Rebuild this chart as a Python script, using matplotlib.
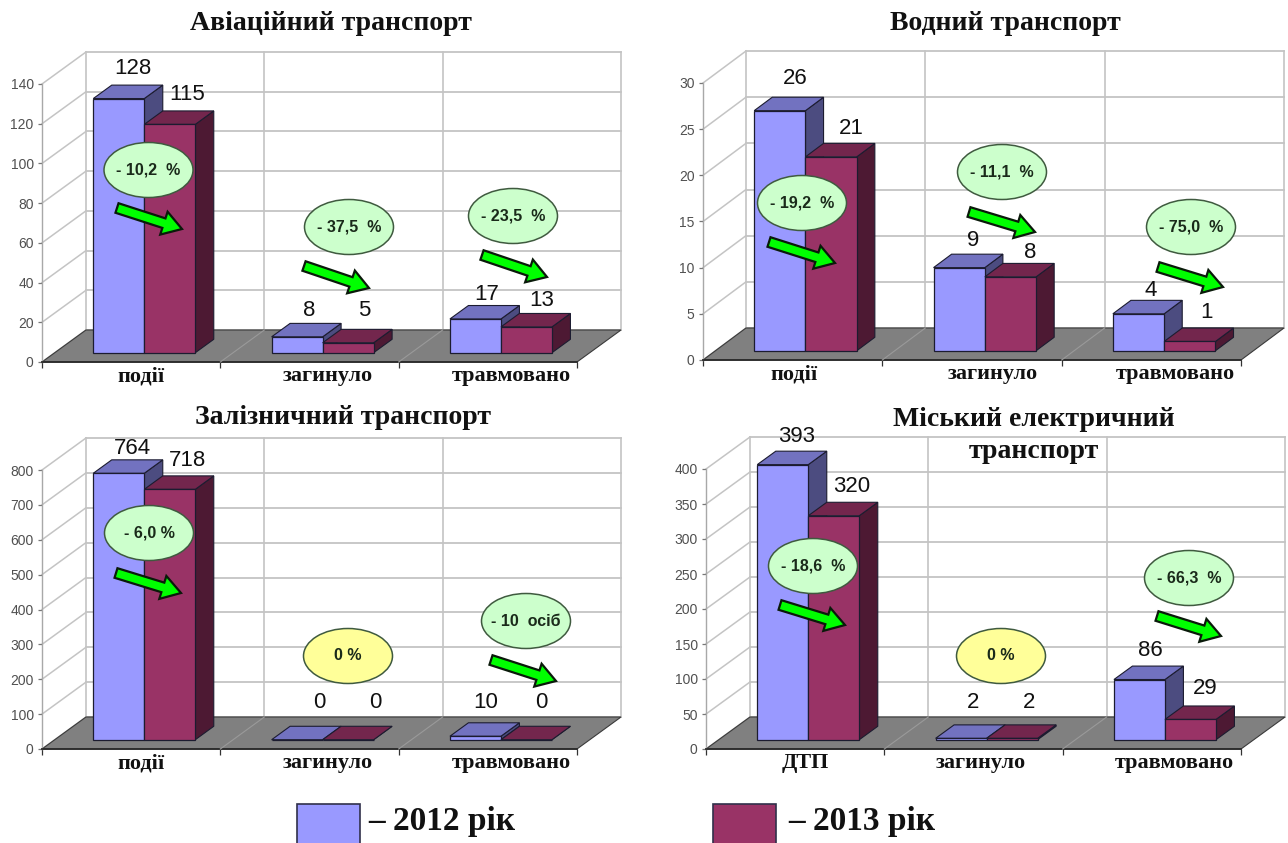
import matplotlib
matplotlib.use("Agg")
import matplotlib.pyplot as plt
from matplotlib.patches import Ellipse, FancyArrow, Polygon, Rectangle

W, H = 1288, 843
SANS, SERIF = "Liberation Sans", "Liberation Serif"

# ---- data ----
titles = ["Авіаційний транспорт", "Водний транспорт", "Залізничний транспорт",
          "Міський електричний\nтранспорт"]
cats_air = ["події", "загинуло", "травмовано"]
cats_water = ["події", "загинуло", "травмовано"]
cats_rail = ["події", "загинуло", "травмовано"]
cats_city = ["ДТП", "загинуло", "травмовано"]
air_2012 = [128, 8, 17]
air_2013 = [115, 5, 13]
water_2012 = [26, 9, 4]
water_2013 = [21, 8, 1]
rail_2012 = [764, 0, 10]
rail_2013 = [718, 0, 0]
city_2012 = [393, 2, 86]
city_2013 = [320, 2, 29]
air_ticks = [0, 20, 40, 60, 80, 100, 120, 140]
water_ticks = [0, 5, 10, 15, 20, 25, 30]
rail_ticks = [0, 100, 200, 300, 400, 500, 600, 700, 800]
city_ticks = [0, 50, 100, 150, 200, 250, 300, 350, 400]
air_changes = ["- 10,2  %", "- 37,5  %", "- 23,5  %"]
water_changes = ["- 19,2  %", "- 11,1  %", "- 75,0  %"]
rail_changes = ["- 6,0 %", "0 %", "- 10  осіб"]
city_changes = ["- 18,6  %", "0 %", "- 66,3  %"]
legend_labels = ["– 2012 рік", "– 2013 рік"]

# ---- styles ----
BLUE = ("#9999FF", "#7272C0", "#4C4C80")
CRIM = ("#993366", "#73264D", "#4D1933")
EDGE = "#1c1c30"
GRID = "#c4c4c4"

# ---- layout in reference pixels ----
panels = [
    dict(title=titles[0], cats=cats_air, a=air_2012, b=air_2013, ticks=air_ticks, changes=air_changes,
         left=42, right=577, y0=362, ytop=84, dx=44, dy=32,
         title_xy=[(331, 24)], cat_px=[141, 328, 511],
         labels=[(132.5, 67), (187.5, 94), (309, 310), (364, 310), (487, 293), (542, 299)],
         ell=[(148.5, 170), (349, 227), (513, 216)],
         arrows=[((117, 208), (182, 229)), ((304, 266), (369, 288)), ((482, 255), (547, 277))]),
    dict(title=titles[1], cats=cats_water, a=water_2012, b=water_2013, ticks=water_ticks, changes=water_changes,
         left=703, right=1241, y0=360, ytop=83, dx=43, dy=32,
         title_xy=[(1005, 24)], cat_px=[794, 993, 1175],
         labels=[(795, 78), (851, 128), (973, 240), (1030, 251), (1151, 289), (1207, 311)],
         ell=[(802, 203), (1002, 172), (1191, 227)],
         arrows=[((769, 242), (835, 263)), ((969, 212), (1035, 232)), ((1158, 267), (1223, 287))]),
    dict(title=titles[2], cats=cats_rail, a=rail_2012, b=rail_2013, ticks=rail_ticks, changes=rail_changes,
         left=42, right=577, y0=749, ytop=470, dx=44, dy=32,
         title_xy=[(343, 418)], cat_px=[141, 328, 511],
         labels=[(132, 447), (187.5, 460), (319, 702), (375, 702), (486, 702), (541.5, 702)],
         ell=[(149, 533), (348, 656), (526, 621)],
         arrows=[((116, 573), (181, 593)), None, ((491, 660), (556, 681))]),
    dict(title=titles[3], cats=cats_city, a=city_2012, b=city_2013, ticks=city_ticks, changes=city_changes,
         left=706, right=1241, y0=749, ytop=469, dx=44, dy=32,
         title_xy=[(1034, 419), (1034, 452)], cat_px=[805, 981, 1174],
         labels=[(797, 435), (852, 486), (973, 702), (1029, 702), (1150, 649), (1205, 688)],
         ell=[(813, 566), (1001, 656), (1189, 578)],
         arrows=[((780, 605), (845, 625)), None, ((1157, 616), (1221, 636))]),
]

GAP, BAR_W = 0.216, 0.286        # fractions of one category
D0, D1 = 0.29, 0.71              # bar extent along the depth axis

plt.rcParams["font.family"] = [SANS, "DejaVu Sans"]
fig = plt.figure(figsize=(W / 100, H / 100), dpi=100, facecolor="white")

# overlay in pixel coordinates for annotations
ov = fig.add_axes([0, 0, 1, 1], zorder=10)
ov.set_xlim(0, W)
ov.set_ylim(H, 0)
ov.axis("off")


def draw_bar(ax, x, v, bottom_dx, bottom_dy, DX, DY, cols):
    x0 = x + bottom_dx
    y0 = bottom_dy
    w = BAR_W
    d = D1 - D0
    # right side
    ax.add_patch(Polygon([(x0 + w, y0), (x0 + w + d * DX, y0 + d * DY),
                          (x0 + w + d * DX, y0 + d * DY + v), (x0 + w, y0 + v)],
                         closed=True, fc=cols[2], ec=EDGE, lw=0.8, clip_on=False, zorder=4))
    # top
    ax.add_patch(Polygon([(x0, y0 + v), (x0 + w, y0 + v),
                          (x0 + w + d * DX, y0 + v + d * DY), (x0 + d * DX, y0 + v + d * DY)],
                         closed=True, fc=cols[1], ec=EDGE, lw=0.8, clip_on=False, zorder=4))
    # front
    ax.bar(x0, v, width=w, bottom=y0, align="edge", color=cols[0], edgecolor=EDGE,
           linewidth=0.9, clip_on=False, zorder=4)


for p in panels:
    cw = (p["right"] - p["left"]) / 3
    ymax = p["ticks"][-1]
    upx = (p["y0"] - p["ytop"]) / ymax
    DX = p["dx"] / cw
    DY = p["dy"] / upx
    ax = fig.add_axes([p["left"] / W, 1 - p["y0"] / H,
                       (p["right"] - p["left"]) / W, (p["y0"] - p["ytop"]) / H], zorder=2)
    ax.set_xlim(0, 3)
    ax.set_ylim(0, ymax)
    ax.patch.set_alpha(0)

    # back wall and left wall
    for t in p["ticks"]:
        ax.plot([DX, 3 + DX], [t + DY, t + DY], color=GRID, lw=1.3, clip_on=False, zorder=1)
        ax.plot([0, DX], [t, t + DY], color=GRID, lw=1.1, clip_on=False, zorder=1)
    for c in [0, 1, 2, 3]:
        ax.plot([c + DX, c + DX], [DY, ymax + DY], color=GRID, lw=1.2, clip_on=False, zorder=1)

    # floor
    ax.add_patch(Polygon([(0, 0), (3, 0), (3 + DX, DY), (DX, DY)], closed=True,
                         fc="#808080", ec="#3a3a3a", lw=0.8, clip_on=False, zorder=2))
    for c in [1, 2]:
        ax.plot([c, c + DX], [0, DY], color="#9a9a9a", lw=0.8, clip_on=False, zorder=3)

    # bars
    for i, (va, vb) in enumerate(zip(p["a"], p["b"])):
        draw_bar(ax, i + GAP, va, D0 * DX, D0 * DY, DX, DY, BLUE)
        draw_bar(ax, i + GAP + BAR_W, vb, D0 * DX, D0 * DY, DX, DY, CRIM)

    # axes
    for s in ["top", "right"]:
        ax.spines[s].set_visible(False)
    ax.spines["left"].set_color("#a8a8a8")
    ax.spines["left"].set_linewidth(1.0)
    ax.spines["bottom"].set_color("#2a2a2a")
    ax.spines["bottom"].set_linewidth(1.3)
    ax.set_yticks(p["ticks"])
    ax.tick_params(axis="y", length=3, width=0.9, color="#777777", labelsize=10,
                   labelcolor="#505050", pad=3)
    ax.set_xticks([0, 1, 2, 3], ["", "", "", ""])
    ax.tick_params(axis="x", which="major", length=4, width=0.9, color="#333333")
    ax.set_xticks([(c - p["left"]) / cw for c in p["cat_px"]], p["cats"], minor=True)
    ax.tick_params(axis="x", which="minor", length=0, pad=3)
    for lab in ax.get_xticklabels(minor=True):
        lab.set_family(SERIF)
        lab.set_weight("bold")
        lab.set_size(16)
        lab.set_color("#111111")

    # title
    for (tx, ty), line in zip(p["title_xy"], p["title"].split("\n")):
        ov.text(tx, ty, line, family=SERIF, weight="bold", fontsize=20, color="#111111",
                ha="center", va="center")

    # value labels
    vals = [v for pair in zip(p["a"], p["b"]) for v in pair]
    for (lx, ly), v in zip(p["labels"], vals):
        ov.text(lx, ly + 1, str(v), fontsize=16, color="#111111", ha="center", va="center")

    # change bubbles and arrows
    for (ex, ey), txt in zip(p["ell"], p["changes"]):
        face = "#FFFF99" if txt.startswith("0") else "#CCFFCC"
        ov.add_patch(Ellipse((ex, ey), 89, 55, fc=face, ec="#3f5a3f", lw=1.1))
        ov.text(ex, ey, txt, fontsize=11.5, weight="bold", color="#1a2a1a",
                ha="center", va="center")
    for arr in p["arrows"]:
        if arr is None:
            continue
        (x0, y0), (x1, y1) = arr
        ov.add_patch(FancyArrow(x0, y0, x1 - x0, y1 - y0, width=10, head_width=24, head_length=19,
                                length_includes_head=True, fc="#00FF00", ec="#0a1a0a", lw=1.6))

# legend
for (x0, x1), col, tx, txt in zip([(297, 360), (713, 776)], [BLUE[0], CRIM[0]], [368, 788], legend_labels):
    ov.add_patch(Rectangle((x0, 804), x1 - x0, 60, fc=col, ec="#30304a", lw=1.2, clip_on=True))
    ov.text(tx, 830, txt, family=SERIF, weight="bold", fontsize=24, color="#111111",
            ha="left", va="baseline")

fig.savefig("out.png", dpi=100, facecolor="white")
